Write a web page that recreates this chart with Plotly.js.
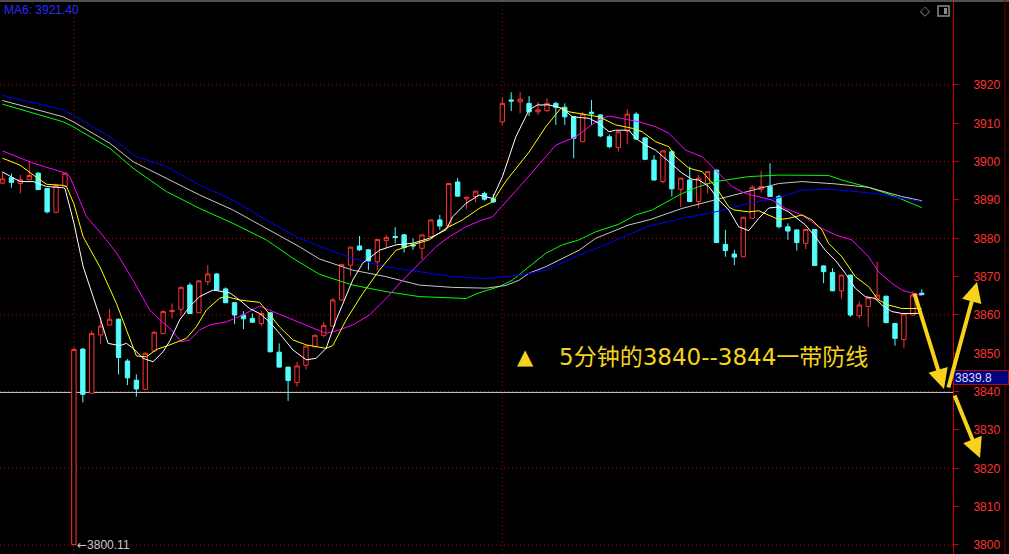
<!DOCTYPE html>
<html><head><meta charset="utf-8">
<script src="https://cdn.plot.ly/plotly-3.0.1.min.js"></script>
<style>html,body{margin:0;padding:0;background:#000;}#chart{width:1009px;height:554px;}</style>
</head><body><div id="chart"></div>
<script>
// ---- candles (5-minute bars) ----
const opens = [3894.4,3895.8,3894.3,3895.3,3897.0,3893.0,3886.8,3893.6,3800.11,3851.1,
3839.6,3854.8,3857.4,3858.9,3848.0,3843.0,3840.6,3850.6,3855.2,3860.9,
3861.5,3867.8,3860.6,3868.7,3870.7,3866.8,3863.2,3860.0,3859.1,3857.8,
3860.6,3850.3,3846.4,3842.4,3846.9,3851.7,3854.7,3857.1,3863.9,3873.0,
3878.0,3877.0,3873.9,3879.4,3880.5,3880.9,3878.3,3877.4,3880.4,3884.8,
3883.3,3894.7,3890.3,3890.9,3891.7,3890.3,3910.4,3916.1,3915.6,3915.2,
3913.0,3913.3,3915.2,3914.2,3911.7,3905.2,3912.9,3912.2,3906.5,3903.7,
3908.0,3912.4,3906.2,3900.4,3894.8,3902.6,3892.8,3895.2,3889.6,3894.3,
3897.8,3878.4,3875.9,3875.2,3885.2,3892.8,3893.5,3890.9,3883.0,3882.2,
3878.7,3882.3,3872.8,3871.1,3866.3,3870.4,3859.8,3862.2,3864.1,3864.9,
3857.8,3853.6,3860.0,3865.7];
const highs = [3897.3,3896.9,3896.5,3900.0,3897.3,3893.1,3894.3,3897.1,3851.7,3851.4,
3855.8,3859.5,3861.5,3859.1,3848.5,3844.5,3850.3,3855.8,3861.2,3863.0,
3867.4,3868.4,3869.0,3873.0,3870.9,3867.2,3863.3,3861.0,3860.4,3861.1,
3860.7,3852.6,3846.5,3847.8,3852.0,3854.8,3858.2,3864.4,3873.3,3877.8,
3880.6,3877.1,3879.8,3880.9,3882.9,3881.1,3880.0,3880.9,3884.9,3886.1,
3894.4,3895.7,3890.8,3892.3,3892.2,3891.6,3916.8,3918.1,3918.1,3917.1,
3915.6,3916.5,3915.6,3915.2,3911.8,3913.0,3916.1,3912.3,3907.1,3907.9,
3913.7,3912.9,3906.3,3901.7,3903.0,3903.0,3895.8,3898.7,3896.5,3897.5,
3897.9,3882.2,3877.0,3885.6,3893.9,3897.6,3899.6,3891.3,3883.9,3882.3,
3882.4,3882.4,3872.9,3872.2,3870.5,3870.5,3863.5,3864.6,3873.9,3865.0,
3857.9,3860.4,3866.1,3866.7];
const lows = [3894.2,3893.2,3891.7,3895.2,3892.6,3886.5,3886.6,3893.5,3800.11,3837.2,
3839.5,3852.4,3857.3,3844.5,3841.7,3838.7,3840.4,3850.3,3855.0,3859.1,
3860.0,3860.3,3860.5,3867.8,3866.3,3863.1,3857.6,3856.3,3858.0,3857.1,
3850.3,3846.3,3837.6,3841.3,3845.8,3851.6,3854.2,3857.0,3863.8,3870.2,
3876.7,3871.7,3871.7,3877.4,3878.7,3876.3,3877.0,3874.5,3880.3,3882.2,
3883.2,3891.0,3887.6,3889.4,3889.8,3889.3,3909.6,3913.2,3912.6,3911.9,
3912.2,3913.0,3909.6,3909.6,3900.9,3905.1,3909.6,3906.4,3903.5,3902.6,
3904.5,3905.8,3900.4,3895.1,3894.3,3890.9,3888.2,3889.5,3887.8,3891.7,
3878.8,3875.2,3873.0,3875.1,3885.1,3891.9,3890.8,3882.6,3879.6,3876.8,
3877.2,3872.8,3868.3,3866.2,3864.3,3859.5,3859.1,3856.9,3864.0,3857.9,
3852.0,3851.3,3859.9,3865.2];
const closes = [3895.5,3894.6,3895.3,3896.4,3892.7,3886.9,3893.8,3897.0,3851.0,3839.3,
3855.2,3857.1,3858.9,3848.9,3843.6,3840.7,3850.0,3855.5,3860.9,3861.2,
3867.2,3860.4,3868.9,3870.7,3866.5,3863.2,3860.0,3859.0,3858.1,3860.4,
3850.4,3846.4,3842.9,3846.7,3851.9,3854.7,3857.3,3863.9,3873.2,3877.7,
3877.0,3874.1,3879.7,3880.2,3880.2,3877.6,3878.0,3880.9,3884.8,3883.2,
3894.3,3891.0,3890.7,3892.3,3890.2,3889.5,3915.2,3915.8,3916.3,3913.0,
3913.5,3915.2,3914.2,3911.7,3906.1,3912.4,3912.5,3906.7,3903.9,3907.8,
3912.4,3905.9,3900.6,3895.2,3902.8,3892.9,3895.7,3889.6,3895.7,3897.4,
3878.9,3876.8,3875.1,3885.5,3893.3,3893.5,3890.9,3883.0,3881.9,3878.9,
3882.3,3872.9,3871.3,3866.3,3870.4,3860.0,3862.6,3864.5,3865.2,3858.0,
3853.9,3860.3,3865.2,3865.3];

// ---- moving-average lines (bar position, value) ----
const ma5Pos = [0,1.96,3.45,4.94,6.8,7,8,9.04,10.9,11.83,13.14,13.89,14.63,15.75,16.87,17.99,18.74,19.85,20.97,22.09,23.58,25.45,26.57,27.68,28.8,29.92,31.04,32.53,34.03,35.15,36.26,37.38,39.24,40.36,42.23,44.09,45.95,47.82,49.69,50.43,51.92,53.41,54.9,56.02,57.52,59,59.93,61.24,62.73,63.85,65.72,66.83,67.95,68.7,70.19,70.94,72.06,73.18,74.67,76.15,77.27,78.02,79.14,80.26,81.38,82.49,83.61,84.73,85.85,86.97,88.09,89.21,89.96,91.07,92.19,93.31,94.43,95.55,96.66,97.78,98.53,99.64,100.76,102.25,103];
const ma5Val = [3897.3,3894.8,3894.8,3893.5,3893.2,3893.0,3884.0,3872.6,3859.5,3852.6,3852.0,3852.6,3851.3,3848.7,3847.8,3850.4,3853.2,3858.7,3862.2,3864.8,3866.5,3865.8,3863.9,3861.7,3860.4,3858.2,3855.2,3850.9,3848.3,3848.7,3851.3,3858.7,3869.1,3873.5,3876.9,3878.3,3878.7,3880.0,3882.2,3885.6,3889.1,3891.3,3890.4,3896.1,3906.5,3913.5,3914.8,3914.8,3913.9,3911.7,3911.3,3910.0,3907.8,3908.2,3908.2,3906.1,3904.3,3903.0,3900.0,3897.0,3895.4,3895.2,3893.5,3890.0,3887.4,3883.0,3882.0,3885.2,3887.9,3888.2,3886.9,3884.8,3883.5,3880.4,3876.9,3874.3,3870.9,3867.0,3864.8,3864.3,3862.6,3860.9,3860.4,3860.4,3860.5];
const ma10Pos = [0,1.96,3.45,4.94,6.8,7.18,8,9.04,10.9,12.77,13.89,15.01,16.13,17.25,18.74,20.6,21.72,22.84,24.33,25.08,26.57,28.8,29.55,31.04,32.53,34.03,36.26,37.0,38.5,40.36,42.23,44.09,45.95,47.82,49.69,51.54,53.41,54.9,56.4,59.0,60.87,62.55,63.48,64.6,66.83,68.7,70.56,71.68,73.18,74.67,75.41,76.9,78.39,79.89,81.38,81.94,83.61,84.73,85.85,86.97,88.09,89.58,90.7,91.82,92.56,94.05,95.55,97.04,98.15,99.27,100.76,103];
const ma10Val = [3900.9,3899.1,3896.5,3894.1,3893.8,3893.5,3889.0,3880.4,3872.6,3863.0,3856.1,3849.3,3849.1,3851.0,3852.2,3853.9,3856.9,3861.3,3864.4,3864.8,3863.9,3863.3,3861.3,3856.9,3853.5,3852.2,3851.3,3852.0,3858.7,3865.6,3871.7,3876.9,3878.3,3879.6,3882.6,3884.8,3887.8,3889.5,3894.9,3902.5,3909.1,3913.9,3913.0,3912.6,3911.7,3909.6,3908.7,3907.8,3905.2,3903.9,3901.3,3898.3,3897.4,3893.5,3888.2,3887.4,3886.9,3887.2,3886.1,3884.9,3885.2,3886.1,3884.8,3882.2,3878.7,3875.2,3870.0,3867.4,3863.9,3862.6,3861.7,3861.7];
const ma20Pos = [0,3.45,6.8,7.55,9.42,10.9,12.77,14.63,16.5,17.62,18.74,20.04,20.97,22.09,23.21,25.08,26.94,28.8,30.29,32.53,34.77,36.26,37.75,39.24,41.11,42.98,44.84,46.7,48.57,50.06,51.92,53.41,54.9,56.4,58.26,61.99,64.23,65.72,66.83,67.95,69.44,71.31,73.18,74.67,76.53,78.39,79.89,81.74,83.24,84.73,86.22,87.72,89.58,91.45,93.31,95.17,97.04,98.15,99.64,100.76,102.6,103];
const ma20Val = [3902.8,3899.6,3897.2,3896.1,3885.6,3881.7,3876.2,3869.1,3861.3,3858.7,3856.6,3853.0,3853.5,3856.1,3857.4,3858.2,3860.0,3862.3,3860.9,3858.7,3856.5,3855.2,3856.1,3857.4,3860.0,3864.3,3869.1,3873.5,3877.8,3880.4,3883.0,3884.5,3885.6,3889.5,3894.3,3904.3,3906.5,3909.1,3910.9,3911.9,3911.3,3910.4,3909.1,3907.4,3903.0,3901.3,3897.8,3893.5,3891.7,3890.9,3890.0,3887.8,3886.1,3883.0,3880.9,3879.6,3875.2,3871.3,3868.3,3866.5,3865.2,3865.0];
const maGreenPos = [0,6.8,7.92,12.02,14.63,18.37,22.09,25.82,29.55,32.53,35.52,39.24,42.98,46.7,51.92,53.41,55.65,57.14,59.0,60.87,62.73,64.6,66.47,69.07,70.94,72.8,76.15,78.02,79.89,83.61,86.97,92.56,94.05,97.04,100.03,103];
const maGreenVal = [3915.0,3910.4,3909.1,3903.5,3898.3,3892.2,3887.8,3883.9,3879.6,3874.8,3870.6,3867.8,3866.1,3864.8,3864.3,3865.8,3867.4,3869.1,3872.6,3876.1,3878.3,3879.6,3881.7,3883.7,3886.1,3887.4,3891.7,3893.5,3894.8,3896.1,3896.5,3896.4,3895.2,3893.3,3890.9,3888.0];
const maGrayPos = [0,6.8,7.92,12.02,14.63,18.37,22.09,25.82,29.55,33.28,35.52,39.24,42.98,46.7,50.43,54.16,56.4,57.89,59.0,60.87,64.6,66.47,70.19,72.43,76.15,79.89,83.61,86.97,89.58,93.31,97.04,100.76,103];
const maGrayVal = [3915.95,3911.7,3910.4,3904.8,3900.0,3895.7,3891.3,3887.4,3882.6,3877.8,3874.6,3871.7,3870.0,3867.8,3867.2,3867.0,3867.7,3869.1,3870.9,3872.6,3876.9,3880.0,3883.5,3884.8,3887.8,3890.0,3892.2,3894.3,3894.8,3894.2,3893.3,3890.9,3889.8];
const maBluePos = [0,6.8,8,12.02,15.01,18.37,22.09,25.82,29.55,33.28,36.63,39.24,42.98,46.7,50.43,54.16,56.4,57.89,60.87,64.6,68.32,72.43,76.15,79.89,83.61,86.97,89.58,92.56,95.55,98.15,100.76,103];
const maBlueVal = [3917.3,3913.5,3912.0,3906.5,3901.3,3898.7,3893.9,3890.0,3884.8,3880.0,3876.95,3874.8,3872.6,3871.3,3870.0,3869.5,3870.0,3870.4,3871.7,3875.6,3879.1,3883.2,3885.2,3886.9,3889.1,3890.6,3892.6,3892.8,3892.2,3891.6,3890.4,3889.6];

// ---- axis / labels ----
const yTicks = [3800,3810,3820,3830,3840,3850,3860,3870,3880,3890,3900,3910,3920];
const gridLevels = [3800,3820,3840,3860,3880,3900,3920];
const sessionStarts = [8, 56];
const lastPrice = 3839.8;
const lowMark = 3800.11;
const maLabel = 'MA6: 3921.40';
const noteText = '5分钟的3840--3844一带防线';

// ---- drawing ----
const W = 1009, H = 554;
const px = x => x / W, py = y => 1 - y / H;
const plotRight = 953 / W;
const barX = opens.map((_, i) => i);

const traces = [{
  type: 'candlestick', x: barX, open: opens, high: highs, low: lows, close: closes,
  increasing: {line: {color: '#ff3232', width: 1}, fillcolor: '#000000'},
  decreasing: {line: {color: '#54fcfc', width: 1}, fillcolor: '#54fcfc'},
  whiskerwidth: 0, hoverinfo: 'skip', showlegend: false
}];
function maLine(xs, ys, color) {
  return {type: 'scatter', mode: 'lines', x: xs, y: ys, line: {color: color, width: 1}, hoverinfo: 'skip', showlegend: false};
}
traces.push(maLine(maGreenPos, maGreenVal, '#00ff00'));
traces.push(maLine(maGrayPos, maGrayVal, '#c8c8c8'));
traces.push(maLine(maBluePos, maBlueVal, '#0000ff'));
traces.push(maLine(ma20Pos, ma20Val, '#ff00ff'));
traces.push(maLine(ma10Pos, ma10Val, '#ffff00'));
traces.push(maLine(ma5Pos, ma5Val, '#ffffff'));

const shapes = [];
gridLevels.forEach(v => shapes.push({type: 'line', xref: 'paper', yref: 'y', x0: 0, x1: plotRight, y0: v, y1: v,
  line: {color: '#b40000', width: 1, dash: '1px,3px'}, layer: 'below'}));
sessionStarts.forEach(i => shapes.push({type: 'line', xref: 'x', yref: 'paper', x0: i, x1: i, y0: 0, y1: 1,
  line: {color: '#b40000', width: 1, dash: '1px,3px'}, layer: 'below'}));
shapes.push({type: 'line', xref: 'paper', yref: 'y', x0: 0, x1: plotRight, y0: lastPrice, y1: lastPrice,
  line: {color: '#d0d0d0', width: 1}, layer: 'below'});
shapes.push({type: 'line', xref: 'paper', yref: 'paper', x0: 0, x1: 1, y0: py(1), y1: py(1), line: {color: '#505050', width: 2}});
shapes.push({type: 'line', xref: 'paper', yref: 'paper', x0: px(1005), x1: px(1005), y0: 0, y1: 1, line: {color: '#700000', width: 1}});
shapes.push({type: 'rect', xref: 'paper', yref: 'paper', x0: px(938), x1: px(949), y0: py(16), y1: py(6), line: {color: '#8a8a8a', width: 1.5}});
shapes.push({type: 'rect', xref: 'paper', yref: 'paper', x0: px(944), x1: px(947), y0: py(14), y1: py(8), fillcolor: '#8a8a8a', line: {width: 0}});

const yellow = '#f6d31b';
function arrow(tipX, tipY, tailX, tailY) {
  return {xref: 'paper', yref: 'paper', x: px(tipX), y: py(tipY), ax: tailX - tipX, ay: tailY - tipY,
    axref: 'pixel', ayref: 'pixel', text: '', showarrow: true, arrowhead: 2, arrowsize: 1, arrowwidth: 4, arrowcolor: yellow, standoff: 0, startstandoff: 0};
}
const annotations = [
  {xref: 'paper', yref: 'paper', x: px(2), y: py(10), xanchor: 'left', yanchor: 'middle', showarrow: false,
    text: maLabel, font: {family: 'Liberation Sans, Arial', size: 12, color: '#2a2aff'}},
  {xref: 'x', yref: 'y', x: sessionStarts[0], y: lowMark, xanchor: 'left', yanchor: 'middle', showarrow: false, xshift: 1,
    text: '<span style="font-family:DejaVu Sans">←</span>' + lowMark.toFixed(2),
    font: {family: 'Liberation Sans, DejaVu Sans', size: 12, color: '#c8c8c8'}},
  {xref: 'paper', yref: 'y', x: plotRight, y: lastPrice, xanchor: 'left', yanchor: 'bottom', showarrow: false, yshift: 7,
    text: lastPrice.toFixed(1), align: 'left', width: 52, height: 11, borderpad: 1,
    bgcolor: '#000080', bordercolor: '#cc0000', borderwidth: 1,
    font: {family: 'Liberation Sans, Arial', size: 12, color: '#dcdcff'}},
  {xref: 'paper', yref: 'paper', x: px(525), y: py(357), xanchor: 'center', yanchor: 'middle', showarrow: false,
    text: '▲', font: {family: 'DejaVu Sans', size: 21, color: yellow}},
  {xref: 'paper', yref: 'paper', x: px(557), y: py(357), xanchor: 'left', yanchor: 'middle', showarrow: false,
    text: noteText, font: {family: 'DejaVu Sans, Noto Sans CJK SC', size: 23, color: yellow}},
  {xref: 'paper', yref: 'paper', x: px(925), y: py(11), xanchor: 'center', yanchor: 'middle', showarrow: false,
    text: '◇', font: {family: 'DejaVu Sans', size: 13, color: '#8a8a8a'}},
  arrow(944, 389, 914, 292),
  arrow(977, 282, 948, 389),
  arrow(980, 458, 954, 394)
];

const layout = {
  width: W, height: H, margin: {l: 0, r: 0, t: 0, b: 0},
  paper_bgcolor: '#000000', plot_bgcolor: '#000000', showlegend: false,
  xaxis: {domain: [0, plotRight], range: [-0.28, 106.5], visible: false, showgrid: false, zeroline: false,
    rangeslider: {visible: false}, fixedrange: true},
  yaxis: {side: 'right', range: [3797.65, 3942.17], tickmode: 'array', tickvals: yTicks,
    ticks: 'outside', ticklen: 5, tickcolor: '#cc0000', tickwidth: 1, ticklabelstandoff: 12,
    tickfont: {family: 'Liberation Sans, Arial', size: 12, color: '#ff3232'},
    showline: true, linecolor: '#cc0000', linewidth: 1, showgrid: false, zeroline: false, fixedrange: true},
  shapes: shapes, annotations: annotations
};
Plotly.newPlot('chart', traces, layout, {staticPlot: true, displayModeBar: false});
</script></body></html>
